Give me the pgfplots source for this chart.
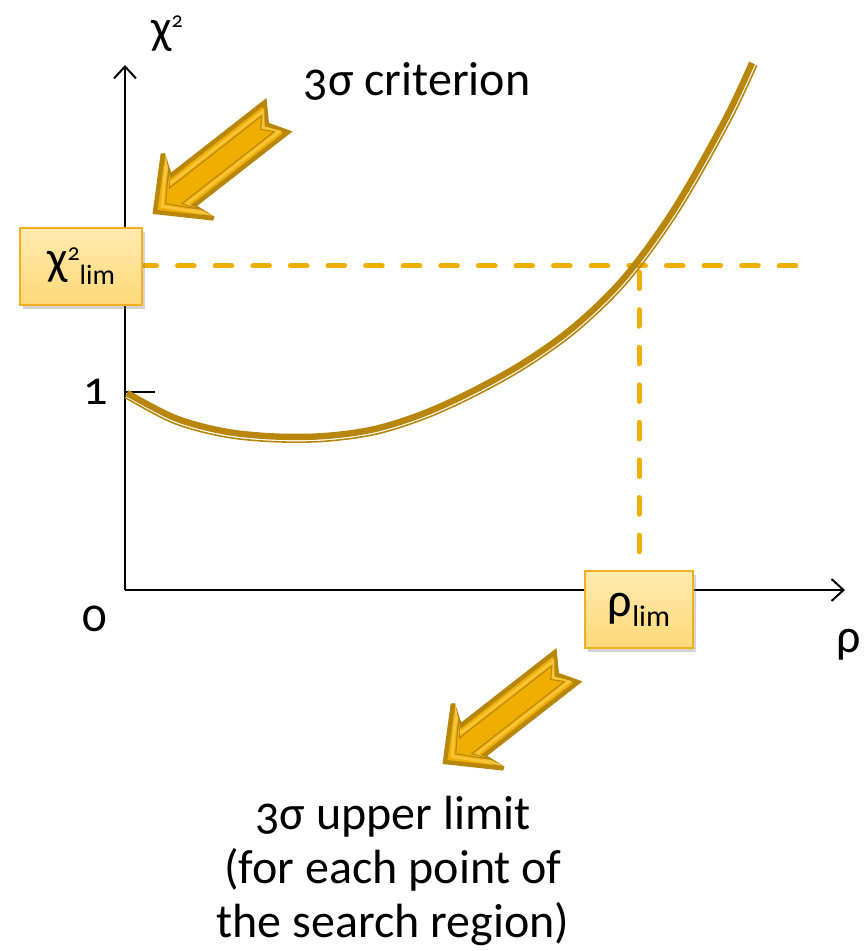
\documentclass[border=0pt]{standalone}
\usepackage{pgfplots}
\pgfplotsset{compat=1.18}
\usepackage{fontspec}
\setmainfont{Carlito}[Numbers=OldStyle]
\usetikzlibrary{arrows.meta,shadows}
\definecolor{curvegold}{HTML}{B8860B}
\definecolor{dashgold}{HTML}{F0AE00}
\definecolor{arrfill}{HTML}{F0AE00}
\definecolor{arrlight}{HTML}{F8C53A}
\definecolor{boxtop}{HTML}{FFEAB0}
\definecolor{boxbot}{HTML}{FFD978}
\definecolor{boxborder}{HTML}{F2B01E}
\newcommand{\bigfont}{\fontsize{24}{27}\selectfont}
\newcommand{\blockarrow}[1]{%
  \begin{scope}[shift={(#1)}, rotate=218, x=1pt, y=1pt]
    \draw[fill=arrfill, draw=curvegold, line width=2.2pt, line join=miter, miter limit=4]
      (0,0) -- (-21,20.5) -- (-17,9.5) -- (-77,9.5) -- (-71,0) -- (-77,-9.5) -- (-17,-9.5) -- (-21,-20.5) -- cycle;
    \draw[draw=arrlight, line width=1.4pt, line join=miter]
      (-4.5,0) -- (-19,15.5) -- (-14.5,6.5) -- (-73.5,6.5) -- (-68.5,0) -- (-73.5,-6.5) -- (-14.5,-6.5) -- (-19,-15.5) -- cycle;
    \draw[draw=curvegold, line width=0.5pt, line join=miter]
      (-6.8,0) -- (-18.5,12.8) -- (-13.2,5) -- (-71.8,5) -- (-67,0) -- (-71.8,-5) -- (-13.2,-5) -- (-18.5,-12.8) -- cycle;
  \end{scope}}
\begin{document}
\begin{tikzpicture}
\begin{axis}[
  scale only axis, width=360pt, height=262.5pt,
  xmin=0, xmax=720, ymin=0, ymax=525,
  axis lines=left,
  axis line style={line width=1pt, -{Straight Barb[length=6pt,width=11pt,line width=1pt]}},
  xtick=\empty, ytick={198}, yticklabels={1},
  major tick length=15pt, tick align=inside,
  tick style={line width=1pt, black},
  yticklabel style={font=\bigfont, xshift=-5pt},
  /pgf/number format/assume math mode=true,
  clip=false,
]
% dashed guide lines
\addplot[dashgold, line width=2.5pt, line cap=round, dash pattern=on 8.3pt off 10.5pt] coordinates {(15,324) (683,324)};
\addplot[dashgold, line width=2.5pt, line cap=round, dash pattern=on 8.3pt off 10.5pt] coordinates {(514,318) (514,19)};
% curve: thick line
\addplot[curvegold, line width=3.2pt, smooth, tension=0.55] coordinates {
 (2,197) (50,172) (100,158.5) (150,153.5) (200,154) (250,161) (300,177) (350,200)
 (400,228) (450,264) (500,313) (550,382) (600,470) (627,527)};
% curve: thin companion line
\addplot[curvegold, line width=0.8pt, smooth, tension=0.55] coordinates {
 (0,192.5) (48.1,167.1) (99,153.3) (149.8,148.3) (200.3,148.8) (251.2,155.9) (301.9,172.1) (352.4,195.3)
 (402.8,223.6) (453.4,260) (504,309.6) (554.4,379.2) (604.7,467.6) (631.7,524.7)};
% labels
\node[font=\bigfont] at (axis cs:292,509) {3σ criterion};
\node[font=\bigfont, inner sep=0pt] at (axis cs:42,556) {χ\raisebox{8pt}{\fontsize{11}{12}\selectfont 2}};
\node[font=\bigfont, inner sep=0pt] at (axis cs:724,-55) {ρ};
\node[font=\bigfont, inner sep=0pt] at (axis cs:-30,-29) {0};
\node[font=\bigfont, align=center, inner sep=0pt] at (axis cs:268,-281) {3σ upper limit\\(for each point of\\the search region)};
\coordinate (a1) at (axis cs:30,378);
\coordinate (a2) at (axis cs:320,-172);
\coordinate (b1) at (axis cs:-44,323.5);
\coordinate (b2) at (axis cs:514,-19.5);
\coordinate (bbA) at (axis cs:-125,590);
\coordinate (bbB) at (axis cs:740,-361);
\end{axis}
\blockarrow{a1}
\blockarrow{a2}
\node[draw=boxborder, line width=0.6pt, top color=boxtop, bottom color=boxbot,
      minimum width=61pt, minimum height=38.5pt, inner sep=0pt,
      drop shadow={shadow xshift=1.5pt, shadow yshift=-2pt, opacity=0.35}] at (b1)
  {\bigfont χ\raisebox{7pt}{\fontsize{12}{13}\selectfont 2}\raisebox{-5pt}{\fontsize{14}{15}\selectfont lim}};
\node[draw=boxborder, line width=0.6pt, top color=boxtop, bottom color=boxbot,
      minimum width=54pt, minimum height=38.5pt, inner sep=0pt,
      drop shadow={shadow xshift=1.5pt, shadow yshift=-2pt, opacity=0.35}] at (b2)
  {\bigfont ρ\raisebox{-5pt}{\fontsize{15}{16}\selectfont lim}};
\pgfresetboundingbox
\path[use as bounding box] (bbA) rectangle (bbB);
\end{tikzpicture}
\end{document}
